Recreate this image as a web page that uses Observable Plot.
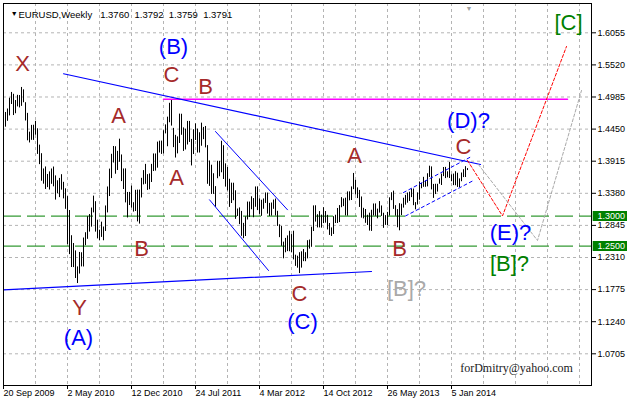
<!DOCTYPE html>
<html><head><meta charset="utf-8">
<script src="https://cdn.jsdelivr.net/npm/d3@7"></script>
<script src="https://cdn.jsdelivr.net/npm/@observablehq/plot@0.6"></script>
<style>body{margin:0;background:#fff;} svg{display:block}</style>
</head><body><div id="chart"></div>
<script>
// Weekly EURUSD bars, week index 0 = 20 Sep 2009
const highs = [
1.4845,1.4727,1.4785,1.4965,1.5061,1.5030,1.4926,1.5013,1.5009,1.5144,
1.5104,1.4890,1.4712,1.4399,1.4512,1.4514,1.4579,1.4455,1.4183,1.4040,
1.3786,1.3819,1.3694,1.3737,1.3785,1.3818,1.3670,1.3589,1.3628,1.3690,
1.3563,1.3455,1.3325,1.3093,1.2673,1.2543,1.2420,1.2153,1.2394,1.2389,
1.2635,1.2723,1.2990,1.3026,1.3134,1.3333,1.3240,1.2932,1.2765,1.2899,
1.2818,1.3169,1.3485,1.3783,1.4030,1.4160,1.4156,1.4079,1.4282,1.4019,
1.3786,1.3787,1.3394,1.3395,1.3500,1.3223,1.3430,1.3433,1.3433,1.3630,
1.3758,1.3862,1.3691,1.3702,1.3862,1.4036,1.4036,1.4233,1.4249,1.4250,
1.4422,1.4520,1.4649,1.4880,1.4940,1.4462,1.4346,1.4320,1.4700,1.4698,
1.4470,1.4449,1.4578,1.4578,1.4278,1.4440,1.4537,1.4450,1.4389,1.4549,
1.4478,1.4494,1.4175,1.3918,1.3848,1.3706,1.3491,1.3914,1.3912,1.4247,
1.4173,1.3871,1.3810,1.3614,1.3549,1.3548,1.3422,1.3118,1.3137,1.3078,
1.2879,1.2987,1.3234,1.3234,1.3322,1.3292,1.3486,1.3487,1.3288,1.3264,
1.3286,1.3386,1.3384,1.3212,1.3218,1.3267,1.3284,1.3080,1.2855,1.2826,
1.2566,1.2628,1.2670,1.2747,1.2692,1.2748,1.2349,1.2332,1.2390,1.2405,
1.2443,1.2390,1.2590,1.2601,1.2815,1.3170,1.3172,1.3023,1.3075,1.3016,
1.3140,1.3076,1.3013,1.2877,1.2803,1.2990,1.3014,1.3127,1.3175,1.3308,
1.3287,1.3299,1.3403,1.3404,1.3486,1.3711,1.3596,1.3470,1.3428,1.3319,
1.3130,1.3110,1.3014,1.3049,1.3097,1.3202,1.3203,1.3116,1.3242,1.3169,
1.3048,1.3008,1.3062,1.3305,1.3389,1.3416,1.3174,1.3108,1.3207,1.3198,
1.3298,1.3346,1.3384,1.3399,1.3452,1.3451,1.3225,1.3387,1.3569,1.3545,
1.3646,1.3588,1.3706,1.3832,1.3820,1.3528,1.3531,1.3530,1.3620,1.3701,
1.3810,1.3812,1.3738,1.3893,1.3689,1.3700,1.3740,1.3714,1.3620,1.3718,
1.3773,1.3824,1.3792];
const lows = [
1.4632,1.4482,1.4580,1.4670,1.4860,1.4676,1.4706,1.4820,1.4803,1.4829,
1.4889,1.4585,1.4255,1.4219,1.4263,1.4262,1.4348,1.4028,1.3858,1.3581,
1.3532,1.3444,1.3475,1.3434,1.3530,1.3488,1.3267,1.3374,1.3308,1.3432,
1.3287,1.3113,1.2524,1.2358,1.2143,1.2142,1.1960,1.1876,1.2034,1.2153,
1.2152,1.2508,1.2613,1.2733,1.2816,1.3054,1.2733,1.2620,1.2588,1.2645,
1.2589,1.2744,1.3053,1.3326,1.3625,1.3885,1.3698,1.3760,1.3897,1.3575,
1.3443,1.3220,1.2969,1.3176,1.3134,1.3067,1.3077,1.2903,1.2867,1.3302,
1.3520,1.3530,1.3428,1.3439,1.3560,1.3743,1.3750,1.3799,1.4051,1.4028,
1.4036,1.4370,1.4156,1.4556,1.4500,1.4141,1.3968,1.4037,1.4210,1.4347,
1.4078,1.4102,1.4185,1.4227,1.3836,1.4026,1.4260,1.4051,1.4051,1.4164,
1.4274,1.4137,1.3530,1.3495,1.3361,1.3362,1.3146,1.3623,1.3655,1.3722,
1.3610,1.3483,1.3420,1.3145,1.3210,1.3256,1.2946,1.2994,1.2858,1.2663,
1.2624,1.2660,1.2935,1.2977,1.3106,1.2973,1.3147,1.3092,1.3028,1.2996,
1.3114,1.3211,1.3033,1.2994,1.3000,1.3113,1.3002,1.2828,1.2641,1.2496,
1.2288,1.2389,1.2408,1.2406,1.2388,1.2270,1.2162,1.2132,1.2042,1.2133,
1.2241,1.2240,1.2287,1.2450,1.2480,1.2743,1.2900,1.2803,1.2803,1.2799,
1.2875,1.2882,1.2769,1.2678,1.2661,1.2694,1.2877,1.2877,1.2892,1.3140,
1.3158,1.3003,1.3000,1.3254,1.3260,1.3441,1.3352,1.3292,1.3144,1.2966,
1.2954,1.2880,1.2843,1.2750,1.2745,1.3002,1.2996,1.2955,1.3050,1.2995,
1.2796,1.2845,1.2843,1.3001,1.3258,1.3112,1.2999,1.2806,1.2755,1.3009,
1.3133,1.3182,1.3215,1.3244,1.3308,1.3174,1.3105,1.3184,1.3265,1.3456,
1.3480,1.3480,1.3487,1.3644,1.3437,1.3295,1.3359,1.3400,1.3531,1.3510,
1.3658,1.3625,1.3638,1.3626,1.3573,1.3508,1.3506,1.3478,1.3476,1.3573,
1.3642,1.3643,1.3759];

const dateTicks = [0,32,64,96,128,160,192,224];
const dateLabels = ["20 Sep 2009","2 May 2010","12 Dec 2010","24 Jul 2011","4 Mar 2012","14 Oct 2012","26 May 2013","5 Jan 2014"];
const gridWeeks = [16,32,48,64,80,96,112,128,144,160,176,192,208,224,240,256,272,288];
const priceTicks = [1.0705,1.1240,1.1775,1.2310,1.2845,1.3380,1.3915,1.4450,1.4985,1.5520,1.6055];
const levels = [1.3000, 1.2500];
const headerText = "EURUSD,Weekly\u00a0\u00a0 1.3760\u00a0 1.3792\u00a0 1.3759\u00a0 1.3791";

// wave labels: [text, week, price]
const brownLabels = [["X",9.5,1.5543],["Y",38,1.1477],["A",57.5,1.4677],["B",69,1.2460],["C",84,1.5360],
  ["A",86.5,1.3643],["B",101,1.5160],["C",148,1.1710],["A",175.5,1.4010],["B",198,1.2460],["C",230,1.4160]];
const blueLabels = [["(A)",37.5,1.0977],["(B)",85,1.5827],["(C)",149.5,1.1243],["(D)?",232.5,1.4593],["(E)?",253.5,1.2727]];
const greenLabels = [["[C]",282.5,1.6227],["[B]?",253,1.2210]];
const grayLabels = [["[B]?",201.5,1.1793]];
const emailLabel = [["forDmitry@yahoo.com",256.5,1.0460]];

// drawn lines: [week, price]
const trendUpper = [[30,1.5372],[238.5,1.3860]];
const trendLower = [[0,1.1772],[184,1.2077]];
const channelUpper = [[106,1.4410],[142,1.3105]];
const channelLower = [[103,1.3272],[132.5,1.2093]];
const wedgeUpper = [[200,1.3393],[234,1.3993]];
const wedgeLower = [[201,1.3002],[235.5,1.3602]];
const redPath = [[232,1.3927],[249.5,1.3003],[281.5,1.5827]];
const grayPath = [[237.5,1.3858],[267,1.2593],[289,1.5093]];
const magentaLine = [[80,1.4948],[282,1.4948]];

const xDomain = [0, 294];
const yDomain = [1.01767, 1.65433];
const bars = d3.range(highs.length);
const F = "Liberation Sans, Arial, sans-serif";
const lab = (arr, color, size) => Plot.text(arr, {x: d => d[1], y: d => d[2], text: d => d[0], fill: color, fontSize: size, fontFamily: F});
const ln = (arr, color, w, dash) => Plot.line(arr, {x: d => d[0], y: d => d[1], stroke: color, strokeWidth: w, strokeDasharray: dash});

const chart = Plot.plot({
  width: 627, height: 403,
  marginLeft: 3, marginRight: 36, marginTop: 3, marginBottom: 18,
  style: {background: "white", fontFamily: F, fontSize: "9px", color: "black"},
  x: {domain: xDomain, axis: "bottom", ticks: dateTicks, tickSize: 4, tickFormat: () => "", label: null},
  y: {domain: yDomain, axis: "right", ticks: priceTicks, tickSize: 4, tickPadding: 2, tickFormat: d => d.toFixed(4), label: null},
  marks: [
    Plot.ruleX(gridWeeks, {stroke: "#b4b4b4", strokeDasharray: "3,3"}),
    Plot.ruleY(priceTicks, {stroke: "#b4b4b4", strokeDasharray: "3,3"}),
    Plot.ruleY(levels, {stroke: "#008000", strokeWidth: 1, strokeDasharray: "18,6"}),
    Plot.ruleX(bars, {x: i => i, y1: i => lows[i], y2: i => highs[i], stroke: "black", strokeWidth: 1}),
    ln(magentaLine, "#ff00ff", 1.5),
    ln(trendUpper, "#0000ff", 1.2),
    ln(trendLower, "#0000ff", 1.2),
    ln(channelUpper, "#0000ff", 1),
    ln(channelLower, "#0000ff", 1),
    ln(wedgeUpper, "#0000ff", 1, "3,3"),
    ln(wedgeLower, "#0000ff", 1, "3,3"),
    ln(redPath, "#ff0000", 1, "3,2"),
    ln(grayPath, "#a9a9a9", 1, "3,2"),
    lab(brownLabels, "#a52a2a", 22),
    lab(blueLabels, "#0000ff", 22),
    lab(greenLabels, "#008000", 22),
    lab(grayLabels, "#a9a9a9", 22),
    Plot.text(emailLabel, {x: d => d[1], y: d => d[2], text: d => d[0], fill: "#1a1a1a", fontSize: 12, fontFamily: "Liberation Serif, Times New Roman, serif"}),
    Plot.ruleY(levels, {x1: xDomain[1] + 0.85, x2: xDomain[1] + 18, stroke: "#008000", strokeWidth: 10}),
    Plot.text(levels, {x: xDomain[1], y: d => d, text: d => d.toFixed(4), dx: 6, textAnchor: "start", fill: "white", fontSize: 9}),
    Plot.text(dateTicks, {x: d => d, frameAnchor: "bottom", dy: 10, text: (d, i) => dateLabels[i], textAnchor: "start", fontSize: 9}),
    Plot.text([headerText], {frameAnchor: "top-left", dx: 15, dy: 8, text: d => d, textAnchor: "start", fontSize: 9.5}),
    Plot.text(["\u25BC"], {frameAnchor: "top-left", dx: 7.3, dy: 8, text: d => d, fontSize: 7}),
    Plot.text(["\u25BC"], {x: highs.length - 0.3, frameAnchor: "top", dy: 3, text: d => d, fontSize: 7, fill: "#a0a0a0"}),
    Plot.frame({stroke: "black"})
  ]
});
document.getElementById("chart").appendChild(chart);
</script>
</body></html>
